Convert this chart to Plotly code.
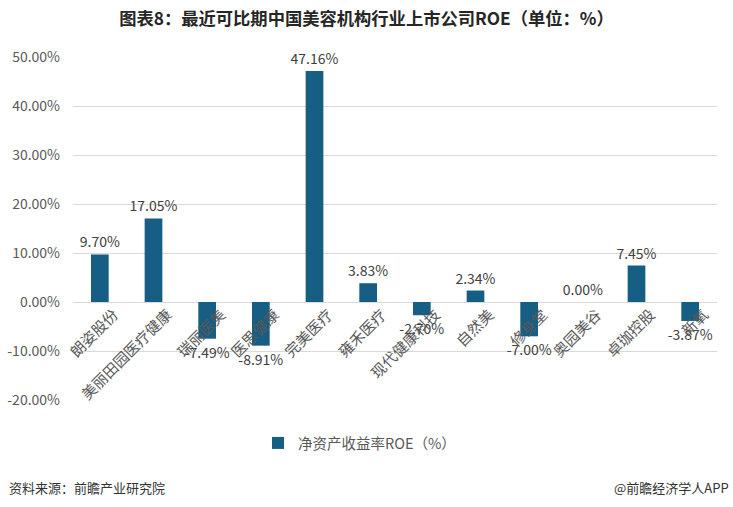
import plotly.graph_objects as go

companies = ["朗姿股份", "美丽田园医疗健康", "瑞丽医美", "医思健康", "完美医疗", "雍禾医疗",
             "现代健康科技", "自然美", "修身堂", "奥园美谷", "卓珈控股", "新氧"]
roe = [9.70, 17.05, -7.49, -8.91, 47.16, 3.83, -2.70, 2.34, -7.00, 0.00, 7.45, -3.87]
y_ticks = [-20, -10, 0, 10, 20, 30, 40, 50]
y_tick_text = ["-20.00%", "-10.00%", "0.00%", "10.00%", "20.00%", "30.00%", "40.00%", "50.00%"]

FONT = "Noto Sans CJK SC"
BAR = "#165e83"

fig = go.Figure()
fig.add_trace(go.Bar(
    x=companies, y=roe, name="净资产收益率ROE（%）",
    marker_color=BAR, marker_line_width=0,
    texttemplate="%{y:.2f}%", textposition="outside", constraintext="none",
    textfont=dict(family=FONT, size=14, color="#404040"),
    cliponaxis=False,
))

fig.update_layout(
    width=733, height=507,
    margin=dict(l=73, r=16, t=57, b=107, autoexpand=False),
    paper_bgcolor="white", plot_bgcolor="white",
    bargap=0.67,
    font=dict(family=FONT, size=14, color="#595959"),
    title=dict(text="<b>图表8：最近可比期中国美容机构行业上市公司ROE（单位：%）</b>",
               x=0.5, xanchor="center", y=1 - 19 / 507, yanchor="middle",
               font=dict(family=FONT, size=17.3, color="#262626")),
    showlegend=True,
    legend=dict(orientation="h", x=(258 - 73) / 644, xanchor="left", y=-43 / 343, yanchor="middle",
                itemwidth=30,
                font=dict(family=FONT, size=14.5, color="#595959")),
    xaxis=dict(anchor="free", position=2 / 7, showgrid=False, showline=False, ticks="",
               tickangle=-45, ticklabelshift=14, automargin=False,
               tickfont=dict(family=FONT, size=15, color="#595959")),
    yaxis=dict(range=[-20, 50], tickvals=y_ticks, ticktext=y_tick_text,
               showgrid=True, gridcolor="#d9d9d9", gridwidth=1, zeroline=False,
               showline=False, ticks="", ticklabelstandoff=12, automargin=False,
               tickfont=dict(family=FONT, size=14, color="#595959")),
)

fig.add_annotation(text="资料来源：前瞻产业研究院", xref="paper", yref="paper",
                   x=(7 - 73) / 644, y=-87 / 343, xanchor="left", yanchor="middle",
                   showarrow=False, font=dict(family=FONT, size=13, color="#333333"))
fig.add_annotation(text="@前瞻经济学人APP", xref="paper", yref="paper",
                   x=(731 - 73) / 644, y=-87 / 343, xanchor="right", yanchor="middle",
                   showarrow=False, font=dict(family=FONT, size=13, color="#333333"))

fig.write_html("out.html")
